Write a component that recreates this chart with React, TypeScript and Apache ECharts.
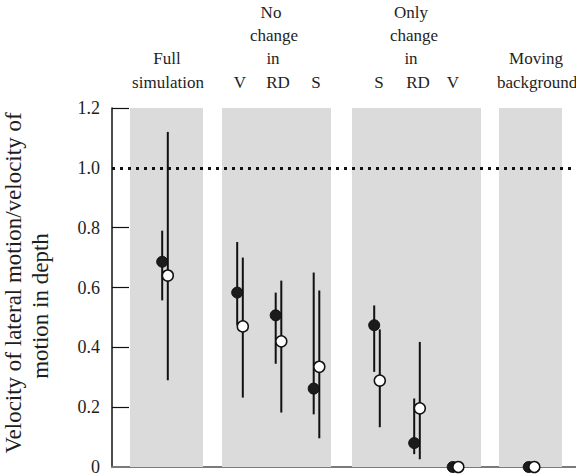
import React, { useEffect, useRef } from "react";
import * as echarts from "echarts";

// Conditions (left to right)
const conditions = ["Full simulation", "No change V", "No change RD", "No change S", "Only change S", "Only change RD", "Only change V", "Moving background"];
// Filled circles: mean and error bar range
const filledMean = [0.686, 0.583, 0.507, 0.262, 0.474, 0.08, 0.0, 0.0];
const filledLow: (number | null)[] = [0.557, 0.474, 0.345, 0.176, 0.318, 0.043, null, null];
const filledHigh: (number | null)[] = [0.79, 0.752, 0.583, 0.65, 0.54, 0.229, null, null];
// Open circles: mean and error bar range
const openMean = [0.64, 0.47, 0.42, 0.335, 0.289, 0.196, 0.0, 0.0];
const openLow: (number | null)[] = [0.29, 0.232, 0.182, 0.096, 0.133, 0.026, null, null];
const openHigh: (number | null)[] = [1.12, 0.7, 0.623, 0.59, 0.46, 0.418, null, null];
// Y axis ticks
const yTicks = [0, 0.2, 0.4, 0.6, 0.8, 1.0, 1.2];
const yTickLabels = ["0", "0.2", "0.4", "0.6", "0.8", "1.0", "1.2"];
const referenceValue = 1.0;

// Layout (positions along the hidden x axis, in grid pixels)
const xCenters = [53, 128, 166.5, 204.5, 265, 305, 343.5, 419.5];
const pairOffset = 2.8;
const bands = [[18, 91], [110, 219], [240, 369], [387, 450]];

const FONT = "'Liberation Serif', 'DejaVu Serif', serif";
const TEXT = "#1e1e1e";

export default function App() {
  const ref = useRef<HTMLDivElement>(null);
  useEffect(() => {
    document.body.style.margin = "0";
    if (!ref.current) return;
    const chart = echarts.init(ref.current, undefined, { renderer: "svg" });

    const errData = (means: number[], lows: (number | null)[], highs: (number | null)[], off: number) =>
      means
        .map((_, i) => (lows[i] == null || highs[i] == null ? null : [xCenters[i] + off, lows[i], highs[i]]))
        .filter((d) => d != null) as number[][];

    const renderErr = (params: any, api: any) => {
      const x = api.value(0);
      const p1 = api.coord([x, api.value(1)]);
      const p2 = api.coord([x, api.value(2)]);
      return {
        type: "line",
        shape: { x1: p1[0], y1: p1[1], x2: p2[0], y2: p2[1] },
        style: { stroke: "#111", lineWidth: 2 },
      };
    };

    const txt = (text: string, x: number, y: number, size = 17) => ({
      type: "text",
      x,
      y,
      style: { text, fontFamily: FONT, fontSize: size, fill: TEXT, align: "center", verticalAlign: "middle" },
    });

    const option: any = {
      animation: false,
      grid: { left: 112, right: 0, top: 108, bottom: 6, containLabel: false },
      xAxis: {
        type: "value",
        min: 0,
        max: 464,
        axisLine: { show: true, onZero: true, lineStyle: { color: "#7a7a7a", width: 2 } },
        axisTick: { show: false },
        axisLabel: { show: false },
        splitLine: { show: false },
      },
      yAxis: {
        type: "value",
        min: 0,
        max: 1.2,
        interval: 0.2,
        axisLine: { show: true, lineStyle: { color: "#111", width: 1.5 } },
        axisTick: {
          show: true,
          inside: true,
          length: 17,
          customValues: [0.2, 0.4, 0.6, 0.8, 1.2],
          lineStyle: { color: "#111", width: 1.2 },
        },
        axisLabel: {
          show: true,
          margin: 12,
          fontFamily: FONT,
          fontSize: 18,
          color: TEXT,
          customValues: yTicks,
          formatter: (v: number) => {
            const i = yTicks.findIndex((t) => Math.abs(t - v) < 1e-6);
            return i >= 0 ? yTickLabels[i] : "";
          },
        },
        splitLine: { show: false },
      },
      graphic: [
        txt("No", 271, 12),
        txt("change", 274, 35),
        txt("in", 273, 58),
        txt("Only", 411, 12),
        txt("change", 414, 35),
        txt("in", 411, 58),
        txt("Full", 167, 58),
        txt("simulation", 168, 82),
        txt("V", 240, 82),
        txt("RD", 278, 82),
        txt("S", 316, 82),
        txt("S", 379, 82),
        txt("RD", 418, 82),
        txt("V", 453, 82),
        txt("Moving", 536, 58),
        txt("background", 537, 82),
        {
          type: "text",
          x: 13,
          y: 283,
          rotation: Math.PI / 2,
          style: { text: "Velocity of lateral motion/velocity of", fontFamily: FONT, fontSize: 23, fill: TEXT, align: "center", verticalAlign: "middle" },
        },
        {
          type: "text",
          x: 40,
          y: 306,
          rotation: Math.PI / 2,
          style: { text: "motion in depth", fontFamily: FONT, fontSize: 23, fill: TEXT, align: "center", verticalAlign: "middle" },
        },
      ],
      series: [
        {
          type: "custom",
          name: "bands",
          data: [],
          renderItem: () => null,
          markArea: {
            silent: true,
            itemStyle: { color: "#dbdbdb" },
            data: bands.map((b) => [{ xAxis: b[0], yAxis: 0 }, { xAxis: b[1], yAxis: 1.2 }]),
          },
          markLine: {
            silent: true,
            symbol: "none",
            label: { show: false },
            lineStyle: { type: [3, 5], width: 3, color: "#111" },
            data: [{ yAxis: referenceValue }],
          },
          z: 1,
        },
        {
          type: "custom",
          name: "filled err",
          renderItem: renderErr,
          encode: { x: 0, y: [1, 2] },
          data: errData(filledMean, filledLow, filledHigh, -pairOffset),
          z: 3,
        },
        {
          type: "custom",
          name: "open err",
          renderItem: renderErr,
          encode: { x: 0, y: [1, 2] },
          data: errData(openMean, openLow, openHigh, pairOffset),
          z: 3,
        },
        {
          type: "scatter",
          name: "filled",
          symbol: "circle",
          symbolSize: 11,
          itemStyle: { color: "#1b1b1b", borderColor: "#111", borderWidth: 1, opacity: 1 },
          data: filledMean.map((v, i) => [xCenters[i] - pairOffset, v]),
          z: 4,
        },
        {
          type: "scatter",
          name: "open",
          symbol: "circle",
          symbolSize: 11,
          itemStyle: { color: "#ffffff", borderColor: "#111", borderWidth: 1.5, opacity: 1 },
          data: openMean.map((v, i) => [xCenters[i] + pairOffset, v]),
          z: 5,
        },
      ],
    };
    chart.setOption(option);
    return () => chart.dispose();
  }, []);
  return <div ref={ref} style={{ width: 576, height: 476 }} />;
}
